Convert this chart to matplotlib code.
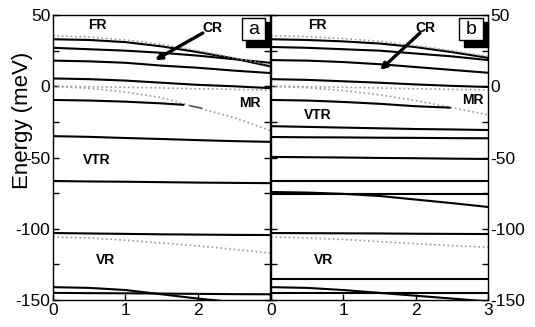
import matplotlib
matplotlib.use("Agg")
import matplotlib.pyplot as plt
from matplotlib.patches import Rectangle
import numpy as np

plt.rcParams['font.family'] = ['Liberation Sans', 'DejaVu Sans']

# --- DATA, x = 0..3 step 0.5 ---
x = [0, 0.5, 1.0, 1.5, 2.0, 2.5, 3.0]

# panel a
a_solid = [
    [33, 32.5, 31, 28, 24, 19.5, 14],
    [27, 26, 25, 23.5, 21.5, 19, 16.5],
    [18, 17.5, 16.5, 14.5, 13, 11, 9.3],
    [5.5, 5, 4, 2.5, 1, 0, -1.3],
    [-35, -35.5, -36.3, -37, -37.8, -38.5, -39],
    [-66.5, -66.8, -67, -67.3, -67.6, -67.8, -68],
    [-103, -103.3, -103.6, -103.9, -104.1, -104.3, -104.4],
    [-145, -145.2, -145.3, -145.5, -145.7, -145.9, -146],
]
a_dotted = [
    [35.5, 34.5, 32.5, 29.5, 25, 20, 15],
    [0, -0.3, -0.7, -1.2, -1.7, -2.2, -2.6],
    [0, -1.5, -4, -8, -15, -22, -31],
    [-105.8, -106.5, -108, -110, -112, -114.5, -117],
]
a_mr_x = [0, 0.5, 1.0, 1.5, 1.8]
a_mr = [-9.6, -10, -10.8, -12, -13]
a_vr_x = [0, 0.5, 1.0, 1.5, 2.0, 2.4]
a_vr = [-141, -141.5, -143, -146, -149, -151]

# panel b
b_solid = [
    [33, 32.5, 31.5, 30, 27.5, 24, 20],
    [27.6, 27, 26, 25, 23, 21, 18.4],
    [18.4, 18, 17, 15.5, 13.5, 11.5, 9.5],
    [5, 4.5, 3.5, 2.5, 1.3, 0.3, -0.5],
    [-28, -28.5, -29, -29.5, -30, -30.3, -30.7],
    [-35.6, -35.8, -35.9, -36.1, -36.2, -36.4, -36.5],
    [-49.6, -49.8, -50, -50.3, -50.5, -50.8, -51],
    [-66.5, -66.5, -66.5, -66.5, -66.5, -66.5, -66.5],
    [-74.2, -74.6, -75.5, -77, -79.5, -82, -84.7],
    [-75.6, -75.6, -75.6, -75.6, -75.6, -75.6, -75.6],
    [-103, -103.1, -103.2, -103.3, -103.5, -103.6, -103.7],
    [-135, -135, -135, -135, -135, -135, -135],
    [-141, -141.5, -143, -145, -147, -149, -151],
    [-145, -145, -145, -145, -145, -145, -145],
]
b_dotted = [
    [35.5, 34.8, 33.5, 31.5, 28.5, 25, 21],
    [0, -0.3, -0.7, -1.2, -1.7, -2.2, -2.6],
    [0, -1, -3, -6, -10, -15, -20],
    [-105.8, -106.5, -107.5, -109, -110.5, -111.8, -113],
]
b_mr_x = [0, 0.5, 1.0, 1.5, 2.0, 2.47]
b_mr = [-9.6, -10, -11, -12.3, -14, -15]

# text labels: (text, x, E)
a_labels = [("FR", 0.62, 43), ("CR", 2.2, 41), ("MR", 2.72, -11.8),
            ("VTR", 0.6, -52), ("VR", 0.72, -122)]
b_labels = [("FR", 0.64, 43), ("CR", 2.13, 41), ("MR", 2.79, -9.6),
            ("VTR", 0.64, -20), ("VR", 0.72, -122)]

fig = plt.figure(figsize=(5.35, 3.27), dpi=100)
ax_a = fig.add_axes([0.099, 0.0826, 0.406, 0.8714])
ax_b = fig.add_axes([0.5065, 0.0826, 0.4055, 0.8714])

DOT = '#999999'


def draw_panel(ax, solids, dotted, mr_x, mr_y, labels, letter, arrow):
    for y in solids:
        ax.plot(x, y, color='k', lw=1.5)
    for y in dotted:
        ax.plot(x, y, color=DOT, lw=1.2, ls=':')
    ax.plot(mr_x, mr_y, color='k', lw=1.5)
    for t, tx, ty in labels:
        ax.text(tx, ty, t, ha='center', va='center', fontsize=10,
                fontweight='bold')
    ax.annotate("", xy=arrow[1], xytext=arrow[0],
                arrowprops=dict(arrowstyle='-|>', lw=2.4, color='k',
                                mutation_scale=9, shrinkA=0, shrinkB=0))
    # letter box with shadow
    ax.add_patch(Rectangle((0.89, 0.888), 0.11, 0.087, transform=ax.transAxes,
                           facecolor='k', edgecolor='k', zorder=5,
                           clip_on=False))
    ax.add_patch(Rectangle((0.868, 0.912), 0.108, 0.077, transform=ax.transAxes,
                           facecolor='white', edgecolor='k', lw=1, zorder=6,
                           clip_on=False))
    ax.text(0.922, 0.95, letter, transform=ax.transAxes, ha='center',
            va='center', fontsize=14, zorder=7)

    ax.set_xlim(0, 3)
    ax.set_ylim(-150, 50)
    ax.set_yticks([50, 0, -50, -100, -150])
    ax.set_yticks(np.arange(-150, 51, 25), minor=True)
    ax.set_xticks([0, 1, 2, 3])
    ax.tick_params(which='both', direction='in', left=True, right=True,
                   top=False, labelsize=12.5, length=4, width=1, pad=2)
    ax.tick_params(which='minor', length=4)
    for s in ax.spines.values():
        s.set_linewidth(1)


draw_panel(ax_a, a_solid, a_dotted, a_mr_x, a_mr, a_labels, "a",
           ((2.07, 37.4), (1.41, 18.4)))
ax_a.plot(a_vr_x, a_vr, color='k', lw=1.5)
ax_a.plot([1.9, 2.05], [-13.8, -15.3], color='#555555', lw=1.2)
ax_a.set_xticklabels(["0", "1", "2", ""])
ax_a.set_yticklabels(["50", "0", "-50", "-100", "-150"])
ax_a.set_ylabel("Energy (meV)", fontsize=16)
# as in the original, the label sits partly over the tick labels
ax_a.yaxis.set_label_coords(-0.09, 0.63)

draw_panel(ax_b, b_solid, b_dotted, b_mr_x, b_mr, b_labels, "b",
           ((2.06, 37.4), (1.51, 11.4)))
ax_b.yaxis.tick_right()
ax_b.tick_params(which='both', left=True, right=True)
ax_b.set_yticklabels(["50", "0", "-50", "-100", "-150"])

fig.savefig("out.png", dpi=100)
